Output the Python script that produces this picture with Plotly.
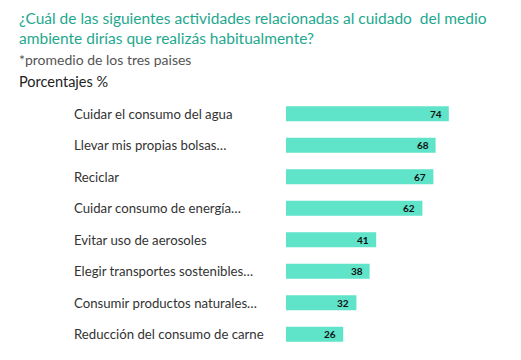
import plotly.graph_objects as go

categories = [
    "Cuidar el consumo del agua",
    "Llevar mis propias bolsas…",
    "Reciclar",
    "Cuidar consumo de energía…",
    "Evitar uso de aerosoles",
    "Elegir transportes sostenibles…",
    "Consumir productos naturales…",
    "Reducción del consumo de carne",
]
values = [74, 68, 67, 62, 41, 38, 32, 26]

title_text = "¿Cuál de las siguientes actividades relacionadas al cuidado  del medio<br>ambiente dirías que realizás habitualmente?"
subtitle_text = "*promedio de los tres paises"
unit_text = "Porcentajes %"

FONT = "Lato"
BAR = "#5fe3c9"
TEAL = "#1ea88e"

W, H = 521, 360
L, R, T, B = 286, 15, 98, 10
plot_w = W - L - R
plot_h = H - T - B

fig = go.Figure(go.Bar(
    x=values, y=categories, orientation="h",
    marker=dict(color=BAR, line=dict(width=0)),
    hoverinfo="skip",
))

for c, v in zip(categories, values):
    fig.add_annotation(x=(72 - L) / plot_w, xref="paper", y=c, yref="y", text=c, showarrow=False,
                       xanchor="left", yanchor="middle",
                       font=dict(family=FONT, size=13.2, color="#333333"))
    fig.add_annotation(x=v, xref="x", y=c, yref="y", text=str(v), showarrow=False,
                       xanchor="right", yanchor="middle", xshift=-5,
                       font=dict(family=FONT, size=10, color="#111111", weight="bold"))

header = [
    dict(text=title_text, x=17, y=7, size=15.5, color=TEAL),
    dict(text=subtitle_text, x=17, y=49, size=14, color="#555555"),
    dict(text=unit_text, x=17, y=71, size=14.5, color="#222222"),
]
for h in header:
    fig.add_annotation(
        text=h["text"], showarrow=False, align="left",
        xref="paper", yref="paper",
        x=(h["x"] - L) / plot_w, y=1 + (T - h["y"]) / plot_h,
        xanchor="left", yanchor="top",
        font=dict(family=FONT, size=h["size"], color=h["color"]),
    )

fig.update_layout(
    width=W, height=H,
    margin=dict(l=L, r=R, t=T, b=B),
    paper_bgcolor="white", plot_bgcolor="white",
    showlegend=False,
    bargap=0.52,
    xaxis=dict(range=[0, 100], visible=False, fixedrange=True),
    yaxis=dict(autorange="reversed", visible=False, categoryorder="array",
               categoryarray=categories, fixedrange=True),
    font=dict(family=FONT),
)

fig.write_html("out.html", config={"displayModeBar": False},
               post_script="document.body.style.margin='0';document.body.style.padding='0';")
